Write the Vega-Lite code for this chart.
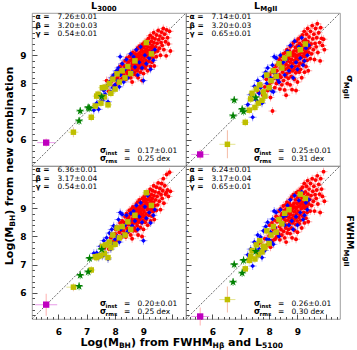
{
"$schema":"https://vega.github.io/schema/vega-lite/v6.json",
"padding":{"left":3,"top":0,"right":0,"bottom":0},
"background":"white",
"config":{"view":{"stroke":"#888","strokeWidth":0.8},"text":{"font":"DejaVu Sans"},"axis":{"labelFont":"DejaVu Sans"}},
"datasets":{"pts":[
{"t":"r","x":7.62,"a":7.85,"b":7.70,"c":7.60,"d":7.75},
{"t":"r","x":7.70,"a":8.10,"b":7.95,"c":7.72,"d":7.80},
{"t":"r","x":7.78,"a":7.72,"b":7.60,"c":7.55,"d":7.65},
{"t":"r","x":7.85,"a":8.05,"b":7.88,"c":7.95,"d":7.92},
{"t":"r","x":7.90,"a":8.22,"b":8.15,"c":8.05,"d":8.18},
{"t":"r","x":7.95,"a":7.90,"b":7.75,"c":7.82,"d":7.70},
{"t":"r","x":8.00,"a":8.15,"b":7.95,"c":8.10,"d":8.02},
{"t":"r","x":8.02,"a":8.35,"b":8.30,"c":8.25,"d":8.40},
{"t":"r","x":8.05,"a":7.98,"b":7.50,"c":7.85,"d":7.62},
{"t":"r","x":8.08,"a":8.20,"b":8.05,"c":8.00,"d":8.12},
{"t":"r","x":8.10,"a":8.45,"b":8.40,"c":8.32,"d":8.48},
{"t":"r","x":8.12,"a":8.05,"b":7.02,"c":7.90,"d":7.85},
{"t":"r","x":8.15,"a":8.28,"b":8.18,"c":8.15,"d":8.25},
{"t":"r","x":8.18,"a":8.60,"b":8.52,"c":8.48,"d":8.58},
{"t":"r","x":8.20,"a":8.12,"b":7.85,"c":7.95,"d":7.90},
{"t":"r","x":8.22,"a":8.38,"b":8.35,"c":8.22,"d":8.30},
{"t":"r","x":8.25,"a":8.70,"b":8.62,"c":8.55,"d":8.72},
{"t":"r","x":8.26,"a":8.18,"b":8.00,"c":8.05,"d":7.98},
{"t":"r","x":8.28,"a":8.50,"b":8.45,"c":8.40,"d":8.52},
{"t":"r","x":8.30,"a":8.32,"b":8.12,"c":8.20,"d":8.15},
{"t":"r","x":8.32,"a":8.62,"b":8.70,"c":8.50,"d":8.66},
{"t":"r","x":8.34,"a":8.25,"b":8.05,"c":8.10,"d":8.08},
{"t":"r","x":8.35,"a":8.80,"b":8.85,"c":8.70,"d":8.90},
{"t":"r","x":8.37,"a":8.45,"b":8.30,"c":8.38,"d":8.35},
{"t":"r","x":8.38,"a":8.15,"b":7.80,"c":7.98,"d":7.88},
{"t":"r","x":8.40,"a":8.55,"b":8.55,"c":8.45,"d":8.60},
{"t":"r","x":8.41,"a":8.90,"b":8.95,"c":8.82,"d":8.98},
{"t":"r","x":8.42,"a":8.38,"b":8.22,"c":8.28,"d":8.25},
{"t":"r","x":8.44,"a":8.68,"b":8.72,"c":8.60,"d":8.75},
{"t":"r","x":8.45,"a":8.28,"b":7.95,"c":8.15,"d":8.05},
{"t":"r","x":8.47,"a":8.75,"b":8.80,"c":8.68,"d":8.82},
{"t":"r","x":8.48,"a":8.48,"b":8.40,"c":8.42,"d":8.45},
{"t":"r","x":8.50,"a":8.95,"b":9.05,"c":8.92,"d":9.08},
{"t":"r","x":8.51,"a":8.35,"b":8.10,"c":8.25,"d":8.18},
{"t":"r","x":8.52,"a":8.62,"b":8.60,"c":8.55,"d":8.65},
{"t":"r","x":8.54,"a":8.82,"b":8.90,"c":8.78,"d":8.92},
{"t":"r","x":8.55,"a":8.20,"b":7.77,"c":8.05,"d":7.95},
{"t":"r","x":8.56,"a":8.58,"b":8.50,"c":8.50,"d":8.55},
{"t":"r","x":8.58,"a":9.02,"b":9.10,"c":8.98,"d":9.12},
{"t":"r","x":8.59,"a":8.42,"b":8.25,"c":8.35,"d":8.30},
{"t":"r","x":8.60,"a":8.70,"b":8.68,"c":8.62,"d":8.72},
{"t":"r","x":8.61,"a":8.88,"b":8.95,"c":8.85,"d":8.98},
{"t":"r","x":8.62,"a":8.50,"b":8.35,"c":8.45,"d":8.40},
{"t":"r","x":8.63,"a":9.10,"b":9.20,"c":9.05,"d":9.22},
{"t":"r","x":8.64,"a":8.32,"b":8.00,"c":8.20,"d":8.12},
{"t":"r","x":8.65,"a":8.78,"b":8.80,"c":8.72,"d":8.82},
{"t":"r","x":8.66,"a":8.60,"b":8.55,"c":8.55,"d":8.58},
{"t":"r","x":8.67,"a":8.95,"b":9.02,"c":8.92,"d":9.05},
{"t":"r","x":8.68,"a":8.40,"b":8.18,"c":8.30,"d":8.25},
{"t":"r","x":8.69,"a":8.85,"b":8.88,"c":8.80,"d":8.90},
{"t":"r","x":8.70,"a":8.68,"b":8.62,"c":8.65,"d":8.68},
{"t":"r","x":8.71,"a":9.05,"b":9.15,"c":9.00,"d":9.18},
{"t":"r","x":8.72,"a":8.52,"b":8.40,"c":8.48,"d":8.45},
{"t":"r","x":8.73,"a":8.92,"b":8.98,"c":8.88,"d":9.00},
{"t":"r","x":8.74,"a":8.30,"b":7.95,"c":8.20,"d":8.10},
{"t":"r","x":8.75,"a":8.80,"b":8.75,"c":8.75,"d":8.78},
{"t":"r","x":8.75,"a":9.18,"b":9.30,"c":9.15,"d":9.32},
{"t":"r","x":8.76,"a":8.62,"b":8.50,"c":8.58,"d":8.55},
{"t":"r","x":8.77,"a":8.98,"b":9.05,"c":8.95,"d":9.08},
{"t":"r","x":8.78,"a":8.45,"b":8.25,"c":8.38,"d":8.30},
{"t":"r","x":8.79,"a":8.88,"b":8.85,"c":8.85,"d":8.90},
{"t":"r","x":8.80,"a":9.25,"b":9.35,"c":9.22,"d":9.40},
{"t":"r","x":8.80,"a":8.70,"b":8.62,"c":8.68,"d":8.65},
{"t":"r","x":8.81,"a":8.20,"b":7.78,"c":8.05,"d":7.95},
{"t":"r","x":8.82,"a":9.05,"b":9.08,"c":9.02,"d":9.10},
{"t":"r","x":8.83,"a":8.55,"b":8.45,"c":8.50,"d":8.48},
{"t":"r","x":8.84,"a":8.95,"b":8.98,"c":8.92,"d":9.00},
{"t":"r","x":8.85,"a":8.78,"b":8.72,"c":8.75,"d":8.75},
{"t":"r","x":8.86,"a":9.32,"b":9.45,"c":9.30,"d":9.48},
{"t":"r","x":8.87,"a":8.62,"b":8.50,"c":8.60,"d":8.55},
{"t":"r","x":8.88,"a":9.10,"b":9.15,"c":9.08,"d":9.18},
{"t":"r","x":8.89,"a":8.40,"b":8.15,"c":8.32,"d":8.22},
{"t":"r","x":8.90,"a":8.85,"b":8.82,"c":8.85,"d":8.88},
{"t":"r","x":8.91,"a":9.00,"b":9.02,"c":8.98,"d":9.05},
{"t":"r","x":8.92,"a":8.70,"b":8.60,"c":8.68,"d":8.65},
{"t":"r","x":8.93,"a":9.20,"b":9.28,"c":9.18,"d":9.30},
{"t":"r","x":8.94,"a":8.52,"b":8.38,"c":8.48,"d":8.42},
{"t":"r","x":8.95,"a":8.95,"b":8.92,"c":8.95,"d":8.98},
{"t":"r","x":8.96,"a":9.38,"b":9.50,"c":9.35,"d":9.55},
{"t":"r","x":8.97,"a":8.80,"b":8.75,"c":8.78,"d":8.80},
{"t":"r","x":8.98,"a":9.12,"b":9.15,"c":9.10,"d":9.18},
{"t":"r","x":8.99,"a":8.62,"b":8.48,"c":8.58,"d":8.55},
{"t":"r","x":9.00,"a":9.02,"b":9.00,"c":9.00,"d":9.05},
{"t":"r","x":9.00,"a":8.35,"b":8.05,"c":8.25,"d":8.15},
{"t":"r","x":9.01,"a":9.28,"b":9.35,"c":9.25,"d":9.38},
{"t":"r","x":9.02,"a":8.90,"b":8.85,"c":8.88,"d":8.90},
{"t":"r","x":9.03,"a":9.45,"b":9.58,"c":9.42,"d":9.60},
{"t":"r","x":9.04,"a":8.72,"b":8.62,"c":8.70,"d":8.68},
{"t":"r","x":9.05,"a":9.15,"b":9.18,"c":9.12,"d":9.20},
{"t":"r","x":9.06,"a":8.55,"b":8.40,"c":8.50,"d":8.45},
{"t":"r","x":9.07,"a":9.05,"b":9.02,"c":9.05,"d":9.08},
{"t":"r","x":9.08,"a":9.35,"b":9.42,"c":9.32,"d":9.45},
{"t":"r","x":9.09,"a":8.82,"b":8.72,"c":8.80,"d":8.78},
{"t":"r","x":9.10,"a":9.22,"b":9.25,"c":9.20,"d":9.28},
{"t":"r","x":9.11,"a":8.65,"b":8.50,"c":8.62,"d":8.58},
{"t":"r","x":9.12,"a":9.52,"b":9.65,"c":9.50,"d":9.68},
{"t":"r","x":9.13,"a":8.95,"b":8.92,"c":8.95,"d":8.98},
{"t":"r","x":9.14,"a":9.12,"b":9.10,"c":9.10,"d":9.15},
{"t":"r","x":9.15,"a":8.45,"b":8.20,"c":8.40,"d":8.30},
{"t":"r","x":9.16,"a":9.30,"b":9.35,"c":9.30,"d":9.38},
{"t":"r","x":9.17,"a":9.00,"b":8.95,"c":9.00,"d":9.02},
{"t":"r","x":9.18,"a":9.60,"b":9.72,"c":9.58,"d":9.75},
{"t":"r","x":9.19,"a":8.78,"b":8.68,"c":8.75,"d":8.72},
{"t":"r","x":9.20,"a":9.18,"b":9.20,"c":9.18,"d":9.22},
{"t":"r","x":9.21,"a":9.42,"b":9.50,"c":9.40,"d":9.52},
{"t":"r","x":9.22,"a":8.88,"b":8.80,"c":8.85,"d":8.85},
{"t":"r","x":9.23,"a":9.08,"b":9.05,"c":9.05,"d":9.10},
{"t":"r","x":9.24,"a":9.70,"b":9.85,"c":9.68,"d":9.88},
{"t":"r","x":9.25,"a":8.60,"b":8.40,"c":8.55,"d":8.48},
{"t":"r","x":9.26,"a":9.28,"b":9.30,"c":9.28,"d":9.32},
{"t":"r","x":9.27,"a":8.98,"b":8.95,"c":8.95,"d":9.00},
{"t":"r","x":9.28,"a":9.50,"b":9.55,"c":9.48,"d":9.58},
{"t":"r","x":9.29,"a":9.15,"b":9.12,"c":9.15,"d":9.18},
{"t":"r","x":9.30,"a":8.75,"b":8.60,"c":8.72,"d":8.65},
{"t":"r","x":9.31,"a":9.35,"b":9.40,"c":9.35,"d":9.42},
{"t":"r","x":9.32,"a":9.62,"b":9.75,"c":9.62,"d":9.78},
{"t":"r","x":9.33,"a":9.05,"b":9.00,"c":9.02,"d":9.05},
{"t":"r","x":9.34,"a":8.90,"b":8.82,"c":8.88,"d":8.85},
{"t":"r","x":9.35,"a":9.25,"b":9.22,"c":9.22,"d":9.28},
{"t":"r","x":9.36,"a":9.80,"b":9.95,"c":9.80,"d":9.98},
{"t":"r","x":9.37,"a":9.45,"b":9.48,"c":9.45,"d":9.50},
{"t":"r","x":9.38,"a":8.62,"b":8.45,"c":8.60,"d":8.52},
{"t":"r","x":9.40,"a":9.12,"b":9.10,"c":9.10,"d":9.15},
{"t":"r","x":9.41,"a":9.58,"b":9.65,"c":9.58,"d":9.68},
{"t":"r","x":9.43,"a":9.30,"b":9.28,"c":9.30,"d":9.32},
{"t":"r","x":9.45,"a":8.95,"b":8.88,"c":8.92,"d":8.90},
{"t":"r","x":9.46,"a":9.72,"b":9.85,"c":9.75,"d":9.88},
{"t":"r","x":9.48,"a":9.42,"b":9.40,"c":9.42,"d":9.45},
{"t":"r","x":9.50,"a":9.15,"b":9.05,"c":9.12,"d":9.10},
{"t":"r","x":9.52,"a":9.88,"b":10.05,"c":9.90,"d":10.05},
{"t":"r","x":9.54,"a":9.55,"b":9.58,"c":9.55,"d":9.60},
{"t":"r","x":9.56,"a":9.25,"b":9.20,"c":9.25,"d":9.25},
{"t":"r","x":9.58,"a":9.68,"b":9.75,"c":9.70,"d":9.78},
{"t":"r","x":9.60,"a":9.00,"b":8.85,"c":8.95,"d":8.90},
{"t":"r","x":9.62,"a":9.45,"b":9.42,"c":9.48,"d":9.48},
{"t":"r","x":9.64,"a":9.82,"b":9.95,"c":9.88,"d":10.00},
{"t":"r","x":9.66,"a":9.35,"b":9.30,"c":9.35,"d":9.35},
{"t":"r","x":9.68,"a":9.60,"b":9.62,"c":9.62,"d":9.65},
{"t":"r","x":9.70,"a":9.95,"b":10.12,"c":10.05,"d":10.15},
{"t":"r","x":9.72,"a":9.20,"b":9.10,"c":9.18,"d":9.15},
{"t":"r","x":9.75,"a":9.75,"b":9.80,"c":9.80,"d":9.85},
{"t":"r","x":9.78,"a":9.48,"b":9.45,"c":9.50,"d":9.50},
{"t":"r","x":9.80,"a":8.98,"b":8.80,"c":9.55,"d":8.85},
{"t":"r","x":9.82,"a":9.90,"b":9.98,"c":10.20,"d":10.05},
{"t":"r","x":9.85,"a":9.62,"b":9.60,"c":9.65,"d":9.68},
{"t":"r","x":9.88,"a":9.40,"b":9.35,"c":9.42,"d":9.42},
{"t":"r","x":9.92,"a":9.85,"b":9.57,"c":10.28,"d":10.30},
{"t":"r","x":9.95,"a":9.15,"b":9.20,"c":9.60,"d":9.25},
{"t":"r","x":8.60,"a":8.05,"b":7.58,"c":7.92,"d":7.80},
{"t":"r","x":8.95,"a":8.10,"b":7.75,"c":8.00,"d":7.90},
{"t":"b","x":7.25,"a":7.05,"b":7.25,"c":7.40,"d":7.35},
{"t":"b","x":7.35,"a":7.30,"b":7.60,"c":7.42,"d":7.55},
{"t":"b","x":7.42,"a":7.08,"b":6.80,"c":7.25,"d":6.95},
{"t":"b","x":7.48,"a":7.55,"b":7.90,"c":7.65,"d":7.80},
{"t":"b","x":7.55,"a":7.40,"b":7.40,"c":7.30,"d":7.45},
{"t":"b","x":7.60,"a":7.75,"b":8.10,"c":7.85,"d":8.05},
{"t":"b","x":7.65,"a":7.62,"b":7.65,"c":7.42,"d":7.55},
{"t":"b","x":7.70,"a":7.90,"b":7.85,"c":7.95,"d":7.98},
{"t":"b","x":7.75,"a":7.35,"b":7.30,"c":7.20,"d":7.25},
{"t":"b","x":7.80,"a":8.05,"b":8.25,"c":8.12,"d":8.20},
{"t":"b","x":7.85,"a":7.70,"b":7.55,"c":7.55,"d":7.50},
{"t":"b","x":7.88,"a":8.20,"b":8.40,"c":8.25,"d":8.35},
{"t":"b","x":7.92,"a":7.85,"b":8.00,"c":7.75,"d":7.90},
{"t":"b","x":7.95,"a":8.30,"b":8.55,"c":8.38,"d":8.50},
{"t":"b","x":8.00,"a":7.95,"b":7.85,"c":7.90,"d":7.88},
{"t":"b","x":8.05,"a":8.45,"b":8.20,"c":8.30,"d":8.15},
{"t":"b","x":8.08,"a":8.10,"b":7.75,"c":8.00,"d":7.80},
{"t":"b","x":8.12,"a":8.55,"b":8.65,"c":8.60,"d":8.62},
{"t":"b","x":8.15,"a":7.88,"b":7.70,"c":7.80,"d":7.72},
{"t":"b","x":8.18,"a":8.95,"b":8.95,"c":8.85,"d":8.90},
{"t":"b","x":8.20,"a":8.30,"b":8.35,"c":8.25,"d":8.32},
{"t":"b","x":8.25,"a":8.70,"b":8.90,"c":8.78,"d":8.85},
{"t":"b","x":8.30,"a":8.05,"b":8.15,"c":8.05,"d":8.10},
{"t":"b","x":8.35,"a":8.50,"b":8.05,"c":8.40,"d":8.00},
{"t":"b","x":8.40,"a":8.85,"b":9.00,"c":8.75,"d":8.95},
{"t":"b","x":8.45,"a":8.20,"b":8.55,"c":8.18,"d":8.48},
{"t":"b","x":8.50,"a":8.62,"b":8.75,"c":8.55,"d":8.70},
{"t":"b","x":8.55,"a":9.05,"b":8.30,"c":8.82,"d":8.40},
{"t":"b","x":8.60,"a":8.40,"b":8.85,"c":8.38,"d":8.75},
{"t":"b","x":8.65,"a":8.95,"b":9.15,"c":8.90,"d":9.10},
{"t":"b","x":8.70,"a":8.58,"b":8.45,"c":8.55,"d":8.40},
{"t":"b","x":8.75,"a":9.20,"b":9.35,"c":9.10,"d":9.30},
{"t":"b","x":8.80,"a":8.30,"b":8.60,"c":8.25,"d":8.55},
{"t":"b","x":8.85,"a":8.75,"b":8.20,"c":8.70,"d":8.25},
{"t":"b","x":8.90,"a":9.30,"b":9.50,"c":9.20,"d":9.45},
{"t":"b","x":8.95,"a":8.55,"b":8.75,"c":8.50,"d":8.70},
{"t":"b","x":9.00,"a":8.10,"b":8.50,"c":7.85,"d":8.40},
{"t":"b","x":9.05,"a":9.00,"b":9.30,"c":9.05,"d":9.28},
{"t":"b","x":9.10,"a":8.70,"b":8.90,"c":8.65,"d":8.85},
{"t":"b","x":9.15,"a":9.45,"b":9.62,"c":9.45,"d":9.58},
{"t":"b","x":9.20,"a":8.90,"b":8.65,"c":8.85,"d":8.60},
{"t":"b","x":9.25,"a":8.50,"b":8.80,"c":8.48,"d":8.75},
{"t":"b","x":9.30,"a":9.10,"b":9.25,"c":9.08,"d":9.20},
{"t":"b","x":9.35,"a":8.82,"b":9.00,"c":8.75,"d":8.95},
{"t":"b","x":9.40,"a":9.20,"b":9.35,"c":8.95,"d":9.30},
{"t":"y","x":7.16,"a":6.80,"b":6.62,"c":6.81,"d":6.85},
{"t":"y","x":7.30,"a":7.20,"b":7.05,"c":7.28,"d":7.15},
{"t":"y","x":7.35,"a":7.55,"b":7.45,"c":7.25,"d":7.30},
{"t":"y","x":7.40,"a":7.62,"b":7.65,"c":7.30,"d":7.50},
{"t":"y","x":7.50,"a":7.30,"b":7.15,"c":7.32,"d":7.20},
{"t":"y","x":7.55,"a":7.85,"b":7.80,"c":7.65,"d":7.70},
{"t":"y","x":7.62,"a":7.52,"b":7.30,"c":7.40,"d":7.35},
{"t":"y","x":7.67,"a":7.87,"b":7.95,"c":7.70,"d":7.85},
{"t":"y","x":7.75,"a":7.24,"b":7.40,"c":7.25,"d":7.45},
{"t":"y","x":7.80,"a":8.00,"b":7.70,"c":7.80,"d":7.65},
{"t":"y","x":7.85,"a":7.65,"b":7.55,"c":7.60,"d":7.60},
{"t":"y","x":7.92,"a":8.15,"b":8.30,"c":8.05,"d":8.20},
{"t":"y","x":8.00,"a":7.80,"b":7.85,"c":7.72,"d":7.75},
{"t":"y","x":8.07,"a":8.34,"b":8.10,"c":8.30,"d":8.05},
{"t":"y","x":8.15,"a":8.05,"b":8.45,"c":7.95,"d":8.35},
{"t":"y","x":8.25,"a":8.45,"b":8.25,"c":8.35,"d":8.15},
{"t":"y","x":8.35,"a":8.20,"b":8.70,"c":8.05,"d":8.60},
{"t":"y","x":8.45,"a":8.60,"b":8.55,"c":8.52,"d":8.45},
{"t":"y","x":8.55,"a":8.35,"b":8.90,"c":8.25,"d":8.82},
{"t":"y","x":8.70,"a":8.80,"b":9.05,"c":8.75,"d":8.95},
{"t":"y","x":9.28,"a":9.05,"b":9.40,"c":9.10,"d":9.35},
{"t":"y","x":9.10,"a":9.45,"b":9.20,"c":9.55,"d":9.50},
{"t":"Y","x":6.53,"a":6.27,"b":5.84,"c":6.20,"d":5.76},
{"t":"g","x":6.73,"a":6.67,"b":6.85,"c":6.23,"d":6.38},
{"t":"g","x":6.77,"a":7.02,"b":7.41,"c":6.62,"d":7.00},
{"t":"g","x":7.05,"a":7.14,"b":7.08,"c":6.74,"d":6.70},
{"t":"g","x":7.10,"a":7.12,"b":7.00,"c":7.22,"d":7.15},
{"t":"g","x":7.53,"a":7.53,"b":7.50,"c":7.54,"d":7.47},
{"t":"m","x":5.57,"a":5.90,"b":5.48,"c":5.58,"d":5.16}
]},
"columns":2,
"spacing":0,
"bounds":"flush",
"concat":[
{"width":154,"height":153,"data":{"name":"pts"},
"resolve":{"axis":{"x":"independent","y":"independent"}},
"encoding":{"x":{"field":"x","type":"quantitative","scale":{"domain":[5.07,10.5],"nice":false,"zero":false},"axis":null},
"y":{"field":"a","type":"quantitative","scale":{"domain":[5.07,10.5],"nice":false,"zero":false},"axis":null}},
"layer":[
{"transform":[{"filter":"datum.t==='m'"}],"mark":{"type":"rule","color":"#444","strokeWidth":0.8,"strokeDash":[2,1.5]},"encoding":{"x":{"datum":5.07,"type":"quantitative","axis":null},"y":{"datum":5.07,"type":"quantitative","axis":{"orient":"left","values":[6,7,8,9,10],"format":"d","labelExpr":"datum.value < 10 ? datum.label : ''","title":null,"domain":false,"grid":false,"tickSize":5,"offset":-5,"tickColor":"#222","tickWidth":0.8,"labelFontWeight":"bold","labelFontSize":9,"labelPadding":6,"labelColor":"#000"}},"x2":{"datum":10.5},"y2":{"datum":10.5}}},
{"transform":[{"filter":"datum.t!=='m' && datum.t!=='Y'"}],"mark":{"type":"tick","orient":"vertical","thickness":1,"size":8},"encoding":{"color":{"field":"t","type":"nominal","scale":{"domain":["r","b","y","g"],"range":["#ff8c8c","#7a7aff","#d8d860","#40a040"]},"legend":null}}},
{"transform":[{"filter":"datum.t!=='m' && datum.t!=='Y'"}],"mark":{"type":"tick","orient":"horizontal","thickness":1,"size":8},"encoding":{"color":{"field":"t","type":"nominal","scale":{"domain":["r","b","y","g"],"range":["#ff8c8c","#7a7aff","#d8d860","#40a040"]},"legend":null}}},
{"transform":[{"filter":"datum.t==='Y'"}],"mark":{"type":"tick","orient":"vertical","thickness":1,"size":10,"color":"#e0b080"}},
{"transform":[{"filter":"datum.t==='Y'"}],"mark":{"type":"tick","orient":"horizontal","thickness":1,"size":10,"color":"#d8d860"}},
{"transform":[{"filter":"datum.t==='m'"}],"mark":{"type":"tick","orient":"vertical","thickness":1,"size":8,"color":"#ff9090"}},
{"transform":[{"filter":"datum.t==='m'"}],"mark":{"type":"tick","orient":"horizontal","thickness":1,"size":18,"color":"#e070e0"}},
{"transform":[{"filter":"datum.t==='r'"}],"mark":{"type":"point","filled":true,"opacity":1,"color":"#ff0000","size":15}},
{"transform":[{"filter":"datum.t==='b'"}],"mark":{"type":"point","filled":true,"opacity":1,"color":"#0000ff","size":22,"shape":"diamond"}},
{"transform":[{"filter":"datum.t==='y' || datum.t==='Y'"}],"mark":{"type":"point","filled":true,"opacity":1,"color":"#bfbf00","size":30,"shape":"square"}},
{"transform":[{"filter":"datum.t==='g'"}],"mark":{"type":"point","filled":true,"opacity":1,"color":"#008000","size":75,"shape":"M0,-1L0.2245,-0.309L0.951,-0.309L0.363,0.118L0.588,0.809L0,0.382L-0.588,0.809L-0.363,0.118L-0.951,-0.309L-0.2245,-0.309Z"}},
{"transform":[{"filter":"datum.t==='m'"}],"mark":{"type":"point","filled":true,"opacity":1,"color":"#bf00bf","size":40,"shape":"square"}},
{"transform":[{"filter":"datum.t==='m'"}],"mark":{"type":"text","text":["α =","β =","γ ="],"align":"left","baseline":"alphabetic","fontWeight":"bold","fontSize":7.5,"lineHeight":8.5,"dx":3.5,"dy":6},"encoding":{"x":{"datum":5.07,"type":"quantitative","axis":null},"y":{"datum":10.5,"type":"quantitative","axis":{"orient":"left","values":[5.2,5.4,5.6,5.8,6.2,6.4,6.6,6.8,7.2,7.4,7.6,7.8,8.2,8.4,8.6,8.8,9.2,9.4,9.6,9.8,10.2,10.4],"labels":false,"title":null,"domain":false,"grid":false,"tickSize":2.5,"offset":-2.5,"tickColor":"#222","tickWidth":0.8}}}},
{"transform":[{"filter":"datum.t==='m'"}],"mark":{"type":"text","text":["7.26±0.01","3.20±0.03","0.54±0.01"],"align":"left","baseline":"alphabetic","fontSize":7.5,"lineHeight":8.5,"dx":25.5,"dy":6},"encoding":{"x":{"datum":5.07,"type":"quantitative","axis":null},"y":{"datum":10.5,"type":"quantitative","axis":null}}},
{"transform":[{"filter":"datum.t==='m'"}],"mark":{"type":"text","text":["σ","σ"],"align":"left","baseline":"alphabetic","fontWeight":"bold","fontSize":8,"lineHeight":8,"dx":-86,"dy":-13},"encoding":{"x":{"datum":10.5,"type":"quantitative","axis":null},"y":{"datum":5.07,"type":"quantitative","axis":null}}},
{"transform":[{"filter":"datum.t==='m'"}],"mark":{"type":"text","text":["inst","rms"],"align":"left","baseline":"alphabetic","fontWeight":"bold","fontSize":5.5,"lineHeight":8,"dx":-80.5,"dy":-11.5},"encoding":{"x":{"datum":10.5,"type":"quantitative","axis":null},"y":{"datum":5.07,"type":"quantitative","axis":null}}},
{"transform":[{"filter":"datum.t==='m'"}],"mark":{"type":"text","text":["=","="],"align":"left","baseline":"alphabetic","fontSize":7.5,"lineHeight":8,"dx":-62,"dy":-13},"encoding":{"x":{"datum":10.5,"type":"quantitative","axis":null},"y":{"datum":5.07,"type":"quantitative","axis":null}}},
{"transform":[{"filter":"datum.t==='m'"}],"mark":{"type":"text","text":["0.17±0.01","0.25 dex"],"align":"left","baseline":"alphabetic","fontSize":7.5,"lineHeight":8,"dx":-48.5,"dy":-13},"encoding":{"x":{"datum":10.5,"type":"quantitative","axis":null},"y":{"datum":5.07,"type":"quantitative","axis":null}}},
{"transform":[{"filter":"datum.t==='m'"}],"mark":{"type":"text","text":"L","align":"left","baseline":"alphabetic","fontWeight":"bold","fontSize":9.5,"dx":59,"dy":-4},"encoding":{"x":{"datum":5.07,"type":"quantitative","axis":null},"y":{"datum":10.5,"type":"quantitative","axis":null}}},
{"transform":[{"filter":"datum.t==='m'"}],"mark":{"type":"text","text":"3000","align":"left","baseline":"alphabetic","fontWeight":"bold","fontSize":7,"dx":65.2,"dy":-2},"encoding":{"x":{"datum":5.07,"type":"quantitative","axis":null},"y":{"datum":10.5,"type":"quantitative","axis":null}}}
]},
{"width":154,"height":153,"data":{"name":"pts"},
"resolve":{"axis":{"x":"independent","y":"independent"}},
"encoding":{"x":{"field":"x","type":"quantitative","scale":{"domain":[5.07,10.5],"nice":false,"zero":false},"axis":null},
"y":{"field":"b","type":"quantitative","scale":{"domain":[5.07,10.5],"nice":false,"zero":false},"axis":null}},
"layer":[
{"transform":[{"filter":"datum.t==='m'"}],"mark":{"type":"rule","color":"#444","strokeWidth":0.8,"strokeDash":[2,1.5]},"encoding":{"x":{"datum":5.07,"type":"quantitative","axis":null},"y":{"datum":5.07,"type":"quantitative","axis":{"orient":"left","values":[6,7,8,9,10],"labels":false,"title":null,"domain":false,"grid":false,"tickSize":5,"offset":-5,"tickColor":"#222","tickWidth":0.8}},"x2":{"datum":10.5},"y2":{"datum":10.5}}},
{"transform":[{"filter":"datum.t!=='m' && datum.t!=='Y'"}],"mark":{"type":"tick","orient":"vertical","thickness":1,"size":8},"encoding":{"color":{"field":"t","type":"nominal","scale":{"domain":["r","b","y","g"],"range":["#ff8c8c","#7a7aff","#d8d860","#40a040"]},"legend":null}}},
{"transform":[{"filter":"datum.t!=='m' && datum.t!=='Y'"}],"mark":{"type":"tick","orient":"horizontal","thickness":1,"size":8},"encoding":{"color":{"field":"t","type":"nominal","scale":{"domain":["r","b","y","g"],"range":["#ff8c8c","#7a7aff","#d8d860","#40a040"]},"legend":null}}},
{"transform":[{"filter":"datum.t==='Y'"}],"mark":{"type":"tick","orient":"vertical","thickness":1,"size":28,"color":"#f0a080"}},
{"transform":[{"filter":"datum.t==='Y'"}],"mark":{"type":"tick","orient":"horizontal","thickness":1,"size":16,"color":"#d8d860"}},
{"transform":[{"filter":"datum.t==='m'"}],"mark":{"type":"tick","orient":"vertical","thickness":1,"size":10,"color":"#ff9090"}},
{"transform":[{"filter":"datum.t==='m'"}],"mark":{"type":"tick","orient":"horizontal","thickness":1,"size":18,"color":"#e070e0"}},
{"transform":[{"filter":"datum.t==='r'"}],"mark":{"type":"point","filled":true,"opacity":1,"color":"#ff0000","size":15}},
{"transform":[{"filter":"datum.t==='b'"}],"mark":{"type":"point","filled":true,"opacity":1,"color":"#0000ff","size":22,"shape":"diamond"}},
{"transform":[{"filter":"datum.t==='y' || datum.t==='Y'"}],"mark":{"type":"point","filled":true,"opacity":1,"color":"#bfbf00","size":30,"shape":"square"}},
{"transform":[{"filter":"datum.t==='g'"}],"mark":{"type":"point","filled":true,"opacity":1,"color":"#008000","size":75,"shape":"M0,-1L0.2245,-0.309L0.951,-0.309L0.363,0.118L0.588,0.809L0,0.382L-0.588,0.809L-0.363,0.118L-0.951,-0.309L-0.2245,-0.309Z"}},
{"transform":[{"filter":"datum.t==='m'"}],"mark":{"type":"point","filled":true,"opacity":1,"color":"#bf00bf","size":40,"shape":"square"}},
{"transform":[{"filter":"datum.t==='m'"}],"mark":{"type":"text","text":["α =","β =","γ ="],"align":"left","baseline":"alphabetic","fontWeight":"bold","fontSize":7.5,"lineHeight":8.5,"dx":3.5,"dy":6},"encoding":{"x":{"datum":5.07,"type":"quantitative","axis":null},"y":{"datum":10.5,"type":"quantitative","axis":{"orient":"left","values":[5.2,5.4,5.6,5.8,6.2,6.4,6.6,6.8,7.2,7.4,7.6,7.8,8.2,8.4,8.6,8.8,9.2,9.4,9.6,9.8,10.2,10.4],"labels":false,"title":null,"domain":false,"grid":false,"tickSize":2.5,"offset":-2.5,"tickColor":"#222","tickWidth":0.8}}}},
{"transform":[{"filter":"datum.t==='m'"}],"mark":{"type":"text","text":["7.14±0.01","3.20±0.03","0.65±0.01"],"align":"left","baseline":"alphabetic","fontSize":7.5,"lineHeight":8.5,"dx":25.5,"dy":6},"encoding":{"x":{"datum":5.07,"type":"quantitative","axis":null},"y":{"datum":10.5,"type":"quantitative","axis":null}}},
{"transform":[{"filter":"datum.t==='m'"}],"mark":{"type":"text","text":["σ","σ"],"align":"left","baseline":"alphabetic","fontWeight":"bold","fontSize":8,"lineHeight":8,"dx":-86,"dy":-13},"encoding":{"x":{"datum":10.5,"type":"quantitative","axis":null},"y":{"datum":5.07,"type":"quantitative","axis":null}}},
{"transform":[{"filter":"datum.t==='m'"}],"mark":{"type":"text","text":["inst","rms"],"align":"left","baseline":"alphabetic","fontWeight":"bold","fontSize":5.5,"lineHeight":8,"dx":-80.5,"dy":-11.5},"encoding":{"x":{"datum":10.5,"type":"quantitative","axis":null},"y":{"datum":5.07,"type":"quantitative","axis":null}}},
{"transform":[{"filter":"datum.t==='m'"}],"mark":{"type":"text","text":["=","="],"align":"left","baseline":"alphabetic","fontSize":7.5,"lineHeight":8,"dx":-62,"dy":-13},"encoding":{"x":{"datum":10.5,"type":"quantitative","axis":null},"y":{"datum":5.07,"type":"quantitative","axis":null}}},
{"transform":[{"filter":"datum.t==='m'"}],"mark":{"type":"text","text":["0.25±0.01","0.31 dex"],"align":"left","baseline":"alphabetic","fontSize":7.5,"lineHeight":8,"dx":-48.5,"dy":-13},"encoding":{"x":{"datum":10.5,"type":"quantitative","axis":null},"y":{"datum":5.07,"type":"quantitative","axis":null}}},
{"transform":[{"filter":"datum.t==='m'"}],"mark":{"type":"text","text":"L","align":"left","baseline":"alphabetic","fontWeight":"bold","fontSize":9.5,"dx":68,"dy":-4},"encoding":{"x":{"datum":5.07,"type":"quantitative","axis":null},"y":{"datum":10.5,"type":"quantitative","axis":null}}},
{"transform":[{"filter":"datum.t==='m'"}],"mark":{"type":"text","text":"MgII","align":"left","baseline":"alphabetic","fontWeight":"bold","fontSize":7,"dx":74.2,"dy":-2},"encoding":{"x":{"datum":5.07,"type":"quantitative","axis":null},"y":{"datum":10.5,"type":"quantitative","axis":null}}},
{"transform":[{"filter":"datum.t==='m'"}],"mark":{"type":"text","text":"σ","align":"left","baseline":"alphabetic","fontWeight":"bold","fontSize":9.5,"angle":90,"dy":-6.5},"encoding":{"x":{"datum":10.5,"type":"quantitative","axis":null},"y":{"datum":8.3,"type":"quantitative","axis":null}}},
{"transform":[{"filter":"datum.t==='m'"}],"mark":{"type":"text","text":"MgII","align":"left","baseline":"alphabetic","fontWeight":"bold","fontSize":7,"angle":90,"dx":6.8,"dy":-4},"encoding":{"x":{"datum":10.5,"type":"quantitative","axis":null},"y":{"datum":8.3,"type":"quantitative","axis":null}}}
]},
{"width":154,"height":153,"data":{"name":"pts"},
"resolve":{"axis":{"x":"independent","y":"independent"}},
"encoding":{"x":{"field":"x","type":"quantitative","scale":{"domain":[5.07,10.5],"nice":false,"zero":false},"axis":null},
"y":{"field":"c","type":"quantitative","scale":{"domain":[5.07,10.5],"nice":false,"zero":false},"axis":null}},
"layer":[
{"transform":[{"filter":"datum.t==='m'"}],"mark":{"type":"rule","color":"#444","strokeWidth":0.8,"strokeDash":[2,1.5]},"encoding":{"x":{"datum":5.07,"type":"quantitative","axis":{"orient":"bottom","values":[6,7,8,9,10],"format":"d","labelExpr":"datum.value < 10 ? datum.label : ''","title":null,"domain":false,"grid":false,"tickSize":5,"offset":-5,"tickColor":"#222","tickWidth":0.8,"labelFontWeight":"bold","labelFontSize":9,"labelPadding":8,"labelColor":"#000"}},"y":{"datum":5.07,"type":"quantitative","axis":{"orient":"left","values":[6,7,8,9,10],"format":"d","labelExpr":"datum.value < 10 ? datum.label : ''","title":null,"domain":false,"grid":false,"tickSize":5,"offset":-5,"tickColor":"#222","tickWidth":0.8,"labelFontWeight":"bold","labelFontSize":9,"labelPadding":6,"labelColor":"#000"}},"x2":{"datum":10.5},"y2":{"datum":10.5}}},
{"transform":[{"filter":"datum.t!=='m' && datum.t!=='Y'"}],"mark":{"type":"tick","orient":"vertical","thickness":1,"size":8},"encoding":{"color":{"field":"t","type":"nominal","scale":{"domain":["r","b","y","g"],"range":["#ff8c8c","#7a7aff","#d8d860","#40a040"]},"legend":null}}},
{"transform":[{"filter":"datum.t!=='m' && datum.t!=='Y'"}],"mark":{"type":"tick","orient":"horizontal","thickness":1,"size":8},"encoding":{"color":{"field":"t","type":"nominal","scale":{"domain":["r","b","y","g"],"range":["#ff8c8c","#7a7aff","#d8d860","#40a040"]},"legend":null}}},
{"transform":[{"filter":"datum.t==='Y'"}],"mark":{"type":"tick","orient":"vertical","thickness":1,"size":8,"color":"#e0b080"}},
{"transform":[{"filter":"datum.t==='Y'"}],"mark":{"type":"tick","orient":"horizontal","thickness":1,"size":14,"color":"#d8d860"}},
{"transform":[{"filter":"datum.t==='m'"}],"mark":{"type":"tick","orient":"vertical","thickness":1,"size":22,"color":"#ff9090"}},
{"transform":[{"filter":"datum.t==='m'"}],"mark":{"type":"tick","orient":"horizontal","thickness":1,"size":22,"color":"#e070e0"}},
{"transform":[{"filter":"datum.t==='r'"}],"mark":{"type":"point","filled":true,"opacity":1,"color":"#ff0000","size":15}},
{"transform":[{"filter":"datum.t==='b'"}],"mark":{"type":"point","filled":true,"opacity":1,"color":"#0000ff","size":22,"shape":"diamond"}},
{"transform":[{"filter":"datum.t==='y' || datum.t==='Y'"}],"mark":{"type":"point","filled":true,"opacity":1,"color":"#bfbf00","size":30,"shape":"square"}},
{"transform":[{"filter":"datum.t==='g'"}],"mark":{"type":"point","filled":true,"opacity":1,"color":"#008000","size":75,"shape":"M0,-1L0.2245,-0.309L0.951,-0.309L0.363,0.118L0.588,0.809L0,0.382L-0.588,0.809L-0.363,0.118L-0.951,-0.309L-0.2245,-0.309Z"}},
{"transform":[{"filter":"datum.t==='m'"}],"mark":{"type":"point","filled":true,"opacity":1,"color":"#bf00bf","size":40,"shape":"square"}},
{"transform":[{"filter":"datum.t==='m'"}],"mark":{"type":"text","text":["α =","β =","γ ="],"align":"left","baseline":"alphabetic","fontWeight":"bold","fontSize":7.5,"lineHeight":8.5,"dx":3.5,"dy":6},"encoding":{"x":{"datum":5.07,"type":"quantitative","axis":{"orient":"bottom","values":[5.2,5.4,5.6,5.8,6.2,6.4,6.6,6.8,7.2,7.4,7.6,7.8,8.2,8.4,8.6,8.8,9.2,9.4,9.6,9.8,10.2,10.4],"labels":false,"title":null,"domain":false,"grid":false,"tickSize":2.5,"offset":-2.5,"tickColor":"#222","tickWidth":0.8}},"y":{"datum":10.5,"type":"quantitative","axis":{"orient":"left","values":[5.2,5.4,5.6,5.8,6.2,6.4,6.6,6.8,7.2,7.4,7.6,7.8,8.2,8.4,8.6,8.8,9.2,9.4,9.6,9.8,10.2,10.4],"labels":false,"title":null,"domain":false,"grid":false,"tickSize":2.5,"offset":-2.5,"tickColor":"#222","tickWidth":0.8}}}},
{"transform":[{"filter":"datum.t==='m'"}],"mark":{"type":"text","text":["6.36±0.01","3.17±0.04","0.54±0.01"],"align":"left","baseline":"alphabetic","fontSize":7.5,"lineHeight":8.5,"dx":25.5,"dy":6},"encoding":{"x":{"datum":5.07,"type":"quantitative","axis":null},"y":{"datum":10.5,"type":"quantitative","axis":null}}},
{"transform":[{"filter":"datum.t==='m'"}],"mark":{"type":"text","text":["σ","σ"],"align":"left","baseline":"alphabetic","fontWeight":"bold","fontSize":8,"lineHeight":8,"dx":-86,"dy":-13},"encoding":{"x":{"datum":10.5,"type":"quantitative","axis":null},"y":{"datum":5.07,"type":"quantitative","axis":null}}},
{"transform":[{"filter":"datum.t==='m'"}],"mark":{"type":"text","text":["inst","rms"],"align":"left","baseline":"alphabetic","fontWeight":"bold","fontSize":5.5,"lineHeight":8,"dx":-80.5,"dy":-11.5},"encoding":{"x":{"datum":10.5,"type":"quantitative","axis":null},"y":{"datum":5.07,"type":"quantitative","axis":null}}},
{"transform":[{"filter":"datum.t==='m'"}],"mark":{"type":"text","text":["=","="],"align":"left","baseline":"alphabetic","fontSize":7.5,"lineHeight":8,"dx":-62,"dy":-13},"encoding":{"x":{"datum":10.5,"type":"quantitative","axis":null},"y":{"datum":5.07,"type":"quantitative","axis":null}}},
{"transform":[{"filter":"datum.t==='m'"}],"mark":{"type":"text","text":["0.20±0.01","0.25 dex"],"align":"left","baseline":"alphabetic","fontSize":7.5,"lineHeight":8,"dx":-48.5,"dy":-13},"encoding":{"x":{"datum":10.5,"type":"quantitative","axis":null},"y":{"datum":5.07,"type":"quantitative","axis":null}}},
{"transform":[{"filter":"datum.t==='m'"}],"mark":{"type":"text","text":"Log(M","align":"left","baseline":"alphabetic","fontWeight":"bold","fontSize":11,"dx":48.5,"dy":27},"encoding":{"x":{"datum":5.07,"type":"quantitative","axis":null},"y":{"datum":5.07,"type":"quantitative","axis":null}}},
{"transform":[{"filter":"datum.t==='m'"}],"mark":{"type":"text","text":"BH","align":"left","baseline":"alphabetic","fontWeight":"bold","fontSize":7.5,"dx":86.9,"dy":28.5},"encoding":{"x":{"datum":5.07,"type":"quantitative","axis":null},"y":{"datum":5.07,"type":"quantitative","axis":null}}},
{"transform":[{"filter":"datum.t==='m'"}],"mark":{"type":"text","text":") from FWHM","align":"left","baseline":"alphabetic","fontWeight":"bold","fontSize":11,"dx":98.9,"dy":27},"encoding":{"x":{"datum":5.07,"type":"quantitative","axis":null},"y":{"datum":5.07,"type":"quantitative","axis":null}}},
{"transform":[{"filter":"datum.t==='m'"}],"mark":{"type":"text","text":"Hβ","align":"left","baseline":"alphabetic","fontWeight":"bold","fontSize":7.5,"dx":180.6,"dy":28.5},"encoding":{"x":{"datum":5.07,"type":"quantitative","axis":null},"y":{"datum":5.07,"type":"quantitative","axis":null}}},
{"transform":[{"filter":"datum.t==='m'"}],"mark":{"type":"text","text":"and L","align":"left","baseline":"alphabetic","fontWeight":"bold","fontSize":11,"dx":196.1,"dy":27},"encoding":{"x":{"datum":5.07,"type":"quantitative","axis":null},"y":{"datum":5.07,"type":"quantitative","axis":null}}},
{"transform":[{"filter":"datum.t==='m'"}],"mark":{"type":"text","text":"5100","align":"left","baseline":"alphabetic","fontWeight":"bold","fontSize":7.5,"dx":230.1,"dy":28.5},"encoding":{"x":{"datum":5.07,"type":"quantitative","axis":null},"y":{"datum":5.07,"type":"quantitative","axis":null}}},
{"transform":[{"filter":"datum.t==='m'"}],"mark":{"type":"text","text":"Log(M","align":"left","baseline":"alphabetic","fontWeight":"bold","fontSize":11,"angle":270,"dx":0,"dy":-19.5},"encoding":{"x":{"datum":5.07,"type":"quantitative","axis":null},"y":{"datum":6.98,"type":"quantitative","axis":null}}},
{"transform":[{"filter":"datum.t==='m'"}],"mark":{"type":"text","text":"BH","align":"left","baseline":"alphabetic","fontWeight":"bold","fontSize":7.5,"angle":270,"dx":38.4,"dy":-17},"encoding":{"x":{"datum":5.07,"type":"quantitative","axis":null},"y":{"datum":6.98,"type":"quantitative","axis":null}}},
{"transform":[{"filter":"datum.t==='m'"}],"mark":{"type":"text","text":") from new combination","align":"left","baseline":"alphabetic","fontWeight":"bold","fontSize":11,"angle":270,"dx":50.4,"dy":-19.5},"encoding":{"x":{"datum":5.07,"type":"quantitative","axis":null},"y":{"datum":6.98,"type":"quantitative","axis":null}}}
]},
{"width":154,"height":153,"data":{"name":"pts"},
"resolve":{"axis":{"x":"independent","y":"independent"}},
"encoding":{"x":{"field":"x","type":"quantitative","scale":{"domain":[5.07,10.5],"nice":false,"zero":false},"axis":null},
"y":{"field":"d","type":"quantitative","scale":{"domain":[5.07,10.5],"nice":false,"zero":false},"axis":null}},
"layer":[
{"transform":[{"filter":"datum.t==='m'"}],"mark":{"type":"rule","color":"#444","strokeWidth":0.8,"strokeDash":[2,1.5]},"encoding":{"x":{"datum":5.07,"type":"quantitative","axis":{"orient":"bottom","values":[6,7,8,9,10],"format":"d","labelExpr":"datum.value < 10 ? datum.label : ''","title":null,"domain":false,"grid":false,"tickSize":5,"offset":-5,"tickColor":"#222","tickWidth":0.8,"labelFontWeight":"bold","labelFontSize":9,"labelPadding":8,"labelColor":"#000"}},"y":{"datum":5.07,"type":"quantitative","axis":{"orient":"left","values":[6,7,8,9,10],"labels":false,"title":null,"domain":false,"grid":false,"tickSize":5,"offset":-5,"tickColor":"#222","tickWidth":0.8}},"x2":{"datum":10.5},"y2":{"datum":10.5}}},
{"transform":[{"filter":"datum.t!=='m' && datum.t!=='Y'"}],"mark":{"type":"tick","orient":"vertical","thickness":1,"size":8},"encoding":{"color":{"field":"t","type":"nominal","scale":{"domain":["r","b","y","g"],"range":["#ff8c8c","#7a7aff","#d8d860","#40a040"]},"legend":null}}},
{"transform":[{"filter":"datum.t!=='m' && datum.t!=='Y'"}],"mark":{"type":"tick","orient":"horizontal","thickness":1,"size":8},"encoding":{"color":{"field":"t","type":"nominal","scale":{"domain":["r","b","y","g"],"range":["#ff8c8c","#7a7aff","#d8d860","#40a040"]},"legend":null}}},
{"transform":[{"filter":"datum.t==='Y'"}],"mark":{"type":"tick","orient":"vertical","thickness":1,"size":26,"color":"#f0a080"}},
{"transform":[{"filter":"datum.t==='Y'"}],"mark":{"type":"tick","orient":"horizontal","thickness":1,"size":16,"color":"#d8d860"}},
{"transform":[{"filter":"datum.t==='m'"}],"mark":{"type":"tick","orient":"vertical","thickness":1,"size":18,"color":"#ff9090"}},
{"transform":[{"filter":"datum.t==='m'"}],"mark":{"type":"tick","orient":"horizontal","thickness":1,"size":18,"color":"#e070e0"}},
{"transform":[{"filter":"datum.t==='r'"}],"mark":{"type":"point","filled":true,"opacity":1,"color":"#ff0000","size":15}},
{"transform":[{"filter":"datum.t==='b'"}],"mark":{"type":"point","filled":true,"opacity":1,"color":"#0000ff","size":22,"shape":"diamond"}},
{"transform":[{"filter":"datum.t==='y' || datum.t==='Y'"}],"mark":{"type":"point","filled":true,"opacity":1,"color":"#bfbf00","size":30,"shape":"square"}},
{"transform":[{"filter":"datum.t==='g'"}],"mark":{"type":"point","filled":true,"opacity":1,"color":"#008000","size":75,"shape":"M0,-1L0.2245,-0.309L0.951,-0.309L0.363,0.118L0.588,0.809L0,0.382L-0.588,0.809L-0.363,0.118L-0.951,-0.309L-0.2245,-0.309Z"}},
{"transform":[{"filter":"datum.t==='m'"}],"mark":{"type":"point","filled":true,"opacity":1,"color":"#bf00bf","size":40,"shape":"square"}},
{"transform":[{"filter":"datum.t==='m'"}],"mark":{"type":"text","text":["α =","β =","γ ="],"align":"left","baseline":"alphabetic","fontWeight":"bold","fontSize":7.5,"lineHeight":8.5,"dx":3.5,"dy":6},"encoding":{"x":{"datum":5.07,"type":"quantitative","axis":{"orient":"bottom","values":[5.2,5.4,5.6,5.8,6.2,6.4,6.6,6.8,7.2,7.4,7.6,7.8,8.2,8.4,8.6,8.8,9.2,9.4,9.6,9.8,10.2,10.4],"labels":false,"title":null,"domain":false,"grid":false,"tickSize":2.5,"offset":-2.5,"tickColor":"#222","tickWidth":0.8}},"y":{"datum":10.5,"type":"quantitative","axis":{"orient":"left","values":[5.2,5.4,5.6,5.8,6.2,6.4,6.6,6.8,7.2,7.4,7.6,7.8,8.2,8.4,8.6,8.8,9.2,9.4,9.6,9.8,10.2,10.4],"labels":false,"title":null,"domain":false,"grid":false,"tickSize":2.5,"offset":-2.5,"tickColor":"#222","tickWidth":0.8}}}},
{"transform":[{"filter":"datum.t==='m'"}],"mark":{"type":"text","text":["6.24±0.01","3.17±0.04","0.65±0.01"],"align":"left","baseline":"alphabetic","fontSize":7.5,"lineHeight":8.5,"dx":25.5,"dy":6},"encoding":{"x":{"datum":5.07,"type":"quantitative","axis":null},"y":{"datum":10.5,"type":"quantitative","axis":null}}},
{"transform":[{"filter":"datum.t==='m'"}],"mark":{"type":"text","text":["σ","σ"],"align":"left","baseline":"alphabetic","fontWeight":"bold","fontSize":8,"lineHeight":8,"dx":-86,"dy":-13},"encoding":{"x":{"datum":10.5,"type":"quantitative","axis":null},"y":{"datum":5.07,"type":"quantitative","axis":null}}},
{"transform":[{"filter":"datum.t==='m'"}],"mark":{"type":"text","text":["inst","rms"],"align":"left","baseline":"alphabetic","fontWeight":"bold","fontSize":5.5,"lineHeight":8,"dx":-80.5,"dy":-11.5},"encoding":{"x":{"datum":10.5,"type":"quantitative","axis":null},"y":{"datum":5.07,"type":"quantitative","axis":null}}},
{"transform":[{"filter":"datum.t==='m'"}],"mark":{"type":"text","text":["=","="],"align":"left","baseline":"alphabetic","fontSize":7.5,"lineHeight":8,"dx":-62,"dy":-13},"encoding":{"x":{"datum":10.5,"type":"quantitative","axis":null},"y":{"datum":5.07,"type":"quantitative","axis":null}}},
{"transform":[{"filter":"datum.t==='m'"}],"mark":{"type":"text","text":["0.26±0.01","0.30 dex"],"align":"left","baseline":"alphabetic","fontSize":7.5,"lineHeight":8,"dx":-48.5,"dy":-13},"encoding":{"x":{"datum":10.5,"type":"quantitative","axis":null},"y":{"datum":5.07,"type":"quantitative","axis":null}}},
{"transform":[{"filter":"datum.t==='m'"}],"mark":{"type":"text","text":"FWHM","align":"left","baseline":"alphabetic","fontWeight":"bold","fontSize":9.5,"angle":90,"dy":-6.5},"encoding":{"x":{"datum":10.5,"type":"quantitative","axis":null},"y":{"datum":8.756,"type":"quantitative","axis":null}}},
{"transform":[{"filter":"datum.t==='m'"}],"mark":{"type":"text","text":"MgII","align":"left","baseline":"alphabetic","fontWeight":"bold","fontSize":7,"angle":90,"dx":34.4,"dy":-4},"encoding":{"x":{"datum":10.5,"type":"quantitative","axis":null},"y":{"datum":8.756,"type":"quantitative","axis":null}}}
]}
]
}
